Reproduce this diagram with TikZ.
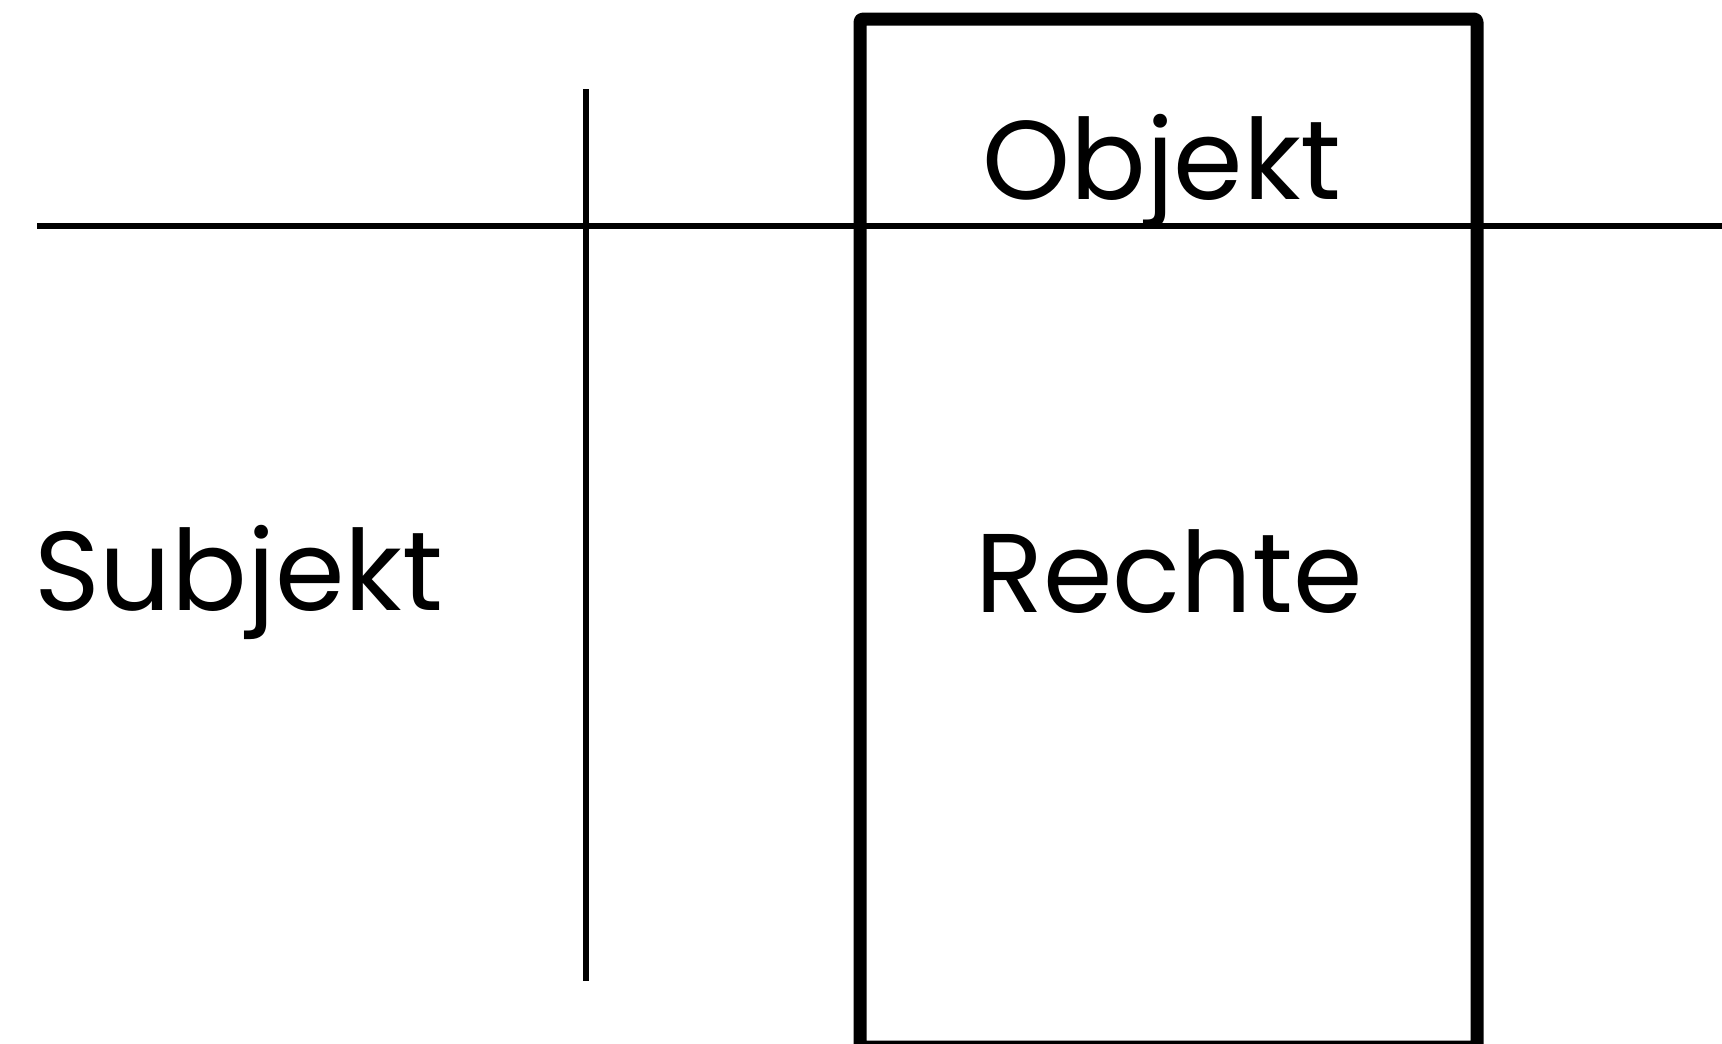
\documentclass[tikz,border=0pt]{standalone}
\usepackage{fontspec}
\setmainfont{Poppins}
\begin{document}
\begin{tikzpicture}[x=1pt,y=-1pt,
  label/.style={inner sep=0pt,anchor=base,font=\fontsize{112}{124}\selectfont},
  rule/.style={line width=5.4pt,black},
  frame/.style={line width=13pt,black,line join=round,rounded corners=3pt}]
\useasboundingbox (0,0) rectangle (1722,1044);
\coordinate (hl) at (37,226);
\coordinate (hr) at (1722,226);
\coordinate (vt) at (586,89);
\coordinate (vb) at (586,981);
\coordinate (bx1) at (860,19);
\coordinate (bx2) at (1477,1047);
\draw[frame] (bx1) rectangle (bx2);
\draw[rule] (hl) -- (hr);
\draw[rule] (vt) -- (vb);
\node[label] (obj) at (1162,199) {Objekt};
\node[label] (rec) at (1169,612) {Rechte};
\node[label,anchor=base west] (sub) at (34,610) {Subjekt};
\end{tikzpicture}
\end{document}
